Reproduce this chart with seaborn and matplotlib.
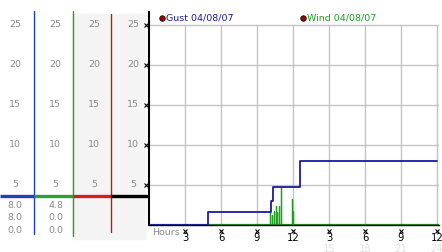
import matplotlib
matplotlib.use("Agg")
import matplotlib.pyplot as plt
from matplotlib.patches import Rectangle
import seaborn as sns
import pandas as pd

# ---- data ----
gust_hours = [0, 4.9, 10.17, 10.3, 12.55, 12.6, 24]
gust_speed = [0, 1.6, 3.0, 4.8, 6.8, 8.0, 8.0]

wind_hours = [0, 10.08, 10.08, 10.08, 10.25, 10.25, 10.25, 10.42, 10.42, 10.42,
              10.56, 10.56, 10.56, 10.65, 10.65, 10.65, 10.83, 10.83, 10.83,
              10.97, 10.97, 10.97, 11.89, 11.89, 11.89, 12.0, 12.0, 12.0, 24]
wind_speed = [0, 0, 1.6, 0, 0, 1.2, 0, 0, 1.8, 0,
              0, 2.4, 0, 0, 1.6, 0, 0, 2.4, 0,
              0, 4.8, 0, 0, 3.2, 0, 0, 1.8, 0, 0]

y_ticks = [5, 10, 15, 20, 25]
x_ticks = [3, 6, 9, 12, 15, 18, 21, 24]
x_labels = ["3", "6", "9", "12", "3", "6", "9", "12"]
x_labels2 = ["15", "18", "21", "24"]
gust_stats = ["8.0", "8.0", "0.0"]
wind_stats = ["4.8", "0.0", "0.0"]
gust_label = "Gust 04/08/07"
wind_label = "Wind 04/08/07"

GUST_C = "#1a1a9e"
WIND_C = "#1fa01f"
GRID_C = "#c4c4c4"
LABEL_C = "#8a8a8a"

sns.set_style("white")
plt.rcParams["font.family"] = ["DejaVu Sans"]
FS = 6.8

W, H = 442, 253
fig = plt.figure(figsize=(W / 100, H / 100), dpi=100)
YTOP = 213 / 8

# ---- left panel ----
lax = fig.add_axes([0, 27 / H, 149 / W, 213 / H])
lax.set_xlim(0, 149)
lax.set_ylim(0, YTOP)
lax.axis("off")
lax.add_patch(Rectangle((72, -1.75), 73, 28.1, color="#f4f4f4", zorder=0, clip_on=False))
lax.plot([33.5, 33.5], [-1.1, 26.75], color="#2040c0", lw=1, clip_on=False)
lax.plot([72.5, 72.5], [-1.4, 26.75], color="#30a030", lw=1, clip_on=False)
lax.plot([111, 111], [-0.9, 26.4], color="#b02020", lw=1, clip_on=False)
yl = 3.6
for x0, x1, c in [(0, 33.5, "#2040c0"), (33.5, 72.5, "#30a030"),
                  (72.5, 111, "#d02020"), (111, 149, "black")]:
    lax.plot([x0, x1], [yl, yl], color=c, lw=2.4, clip_on=False, solid_capstyle="butt")
for xc in [15, 55, 94, 133]:
    for v in y_ticks:
        lax.text(xc, v + 0.15, str(v), ha="center", va="center", fontsize=FS, color=LABEL_C)
for xc, vals in [(15, gust_stats), (56, wind_stats)]:
    for yv, s in zip([2.6, 1.0, -0.6], vals):
        lax.text(xc, yv, s, ha="center", va="center", fontsize=FS, color=LABEL_C)

# ---- main plot ----
ax = fig.add_axes([149 / W, 27 / H, 12 * 24.15 / W, 213 / H])
ax.hlines(y_ticks, 0, 24.15, color=GRID_C, lw=1, zorder=0)
ax.vlines(x_ticks, 0, 25, color=GRID_C, lw=1, zorder=0)

wind_df = pd.DataFrame({"hour": wind_hours, "speed": wind_speed})
gust_df = pd.DataFrame({"hour": gust_hours, "speed": gust_speed})
sns.lineplot(data=wind_df, x="hour", y="speed", sort=False, estimator=None,
             color=WIND_C, lw=0.9, ax=ax, zorder=2)
ax.axhline(0.05, color=WIND_C, lw=1.6, zorder=1.9)
sns.lineplot(data=gust_df, x="hour", y="speed", sort=False, estimator=None,
             color=GUST_C, lw=1.3, drawstyle="steps-post", ax=ax, zorder=3)

ax.set_xlim(0, 24.15)
ax.set_ylim(0, YTOP)
ax.set_xticks([])
ax.set_yticks([])
ax.set_xlabel("")
ax.set_ylabel("")
for s in ["top", "right"]:
    ax.spines[s].set_visible(False)
ax.spines["left"].set_color("black")
ax.spines["left"].set_linewidth(1.5)
ax.spines["bottom"].set_color("black")
ax.spines["bottom"].set_linewidth(1.0)

# tick marks
ax.plot([-0.25] * len(y_ticks), y_ticks, ls="none", marker="x", ms=2.5, mew=0.8,
        color="black", clip_on=False)
ax.plot(x_ticks, [-0.75] * len(x_ticks), ls="none", marker="x", ms=2.5, mew=0.8,
        color="black", clip_on=False)
for xv, s in zip(x_ticks, x_labels):
    ax.text(xv, -1.45, s, ha="center", va="center", fontsize=FS + 0.4, color="black", clip_on=False)
for xv, s in zip(x_ticks[4:], x_labels2):
    ax.text(xv, -2.85, s, ha="center", va="center", fontsize=FS + 0.4, color="#e2e2e2", clip_on=False)
ax.text(0.3, -0.8, "Hours", ha="left", va="center", fontsize=FS, color=LABEL_C, clip_on=False)

# legend labels
ax.plot([1.1], [25.9], ls="none", marker="o", ms=4, mfc="#a00000", mec="black", mew=0.5, clip_on=False)
ax.text(1.45, 25.95, gust_label, ha="left", va="center", fontsize=FS, color=GUST_C)
ax.plot([12.8], [25.9], ls="none", marker="o", ms=4, mfc="#a00000", mec="black", mew=0.5, clip_on=False)
ax.text(13.2, 25.95, wind_label, ha="left", va="center", fontsize=FS, color=WIND_C)

fig.savefig("out.png", dpi=100)
